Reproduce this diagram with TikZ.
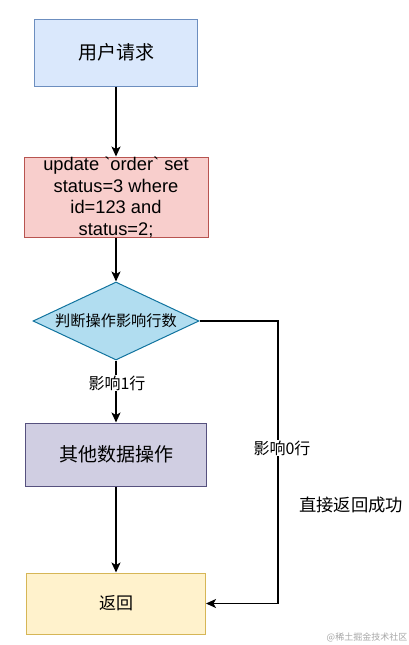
\documentclass[tikz,border=0pt]{standalone}
\usepackage{fontspec}
\setmainfont{Liberation Sans}
\newfontfamily\cjk{Noto Sans CJK SC}
\newfontfamily\sqlfont{Liberation Sans}
\usetikzlibrary{arrows.meta,shapes.geometric}
\definecolor{reqfill}{HTML}{DAE8FC}\definecolor{reqline}{HTML}{6C8EBF}
\definecolor{sqlfill}{HTML}{F8CECC}\definecolor{sqlline}{HTML}{B85450}
\definecolor{judgefill}{HTML}{B1DDF0}\definecolor{judgeline}{HTML}{10739E}
\definecolor{otherfill}{HTML}{D0CEE2}\definecolor{otherline}{HTML}{56517E}
\definecolor{retfill}{HTML}{FFF2CC}\definecolor{retline}{HTML}{D6B656}
\newcommand{\cn}[1]{\cjk\fontsize{#1}{#1}\selectfont}

\begin{document}
\begin{tikzpicture}[x=1pt,y=-1pt,
  box/.style={draw, line width=1pt, inner sep=0pt, align=center},
  flow/.style={-{Stealth[length=10pt,width=9pt,inset=2.5pt]}, line width=1.4pt, black},
  lbl/.style={fill=white, inner sep=1pt}]
\useasboundingbox (0,0) rectangle (409,645);
% boxes
\node[box, fill=reqfill, draw=reqline, minimum width=163pt, minimum height=67pt] (req) at (116,52.5) {\cn{19}用户请求};
\node[box, fill=sqlfill, draw=sqlline, minimum width=184pt, minimum height=77pt,
  font=\sqlfont\fontsize{18.3}{21.7}\selectfont] (sql) at (116,197.5)
  {update `order` set\\status=3 where\\id=123 and\\status=2;};
\node[box, diamond, aspect=2.13, fill=judgefill, draw=judgeline, minimum width=166pt, minimum height=78pt] (judge) at (116,321) {\cn{15.2}判断操作影响行数};
\node[box, fill=otherfill, draw=otherline, minimum width=181pt, minimum height=63pt] (other) at (116,454.5) {\cn{19}其他数据操作};
\node[box, fill=retfill, draw=retline, minimum width=179pt, minimum height=61pt] (ret) at (116,603.5) {\cn{17}返回};
\coordinate (turn) at (278,603.5);
% connectors
\draw[flow] (req) -- (sql);
\draw[flow] (sql) -- (judge);
\draw[flow] (judge) -- (other);
\draw[flow] (other) -- (ret);
\draw[flow] (judge.east) -| (turn) -- (ret.east);
% labels
\node[lbl] (one) at (117,383) {\cn{16}影响1行};
\node[lbl] (zero) at (282,448) {\cn{16}影响0行};
\node (done) at (351,505) {\cn{17.3}直接返回成功};
\node[text=black!35] (mark) at (367,637) {\cn{9}@稀土掘金技术社区};
\end{tikzpicture}
\end{document}
